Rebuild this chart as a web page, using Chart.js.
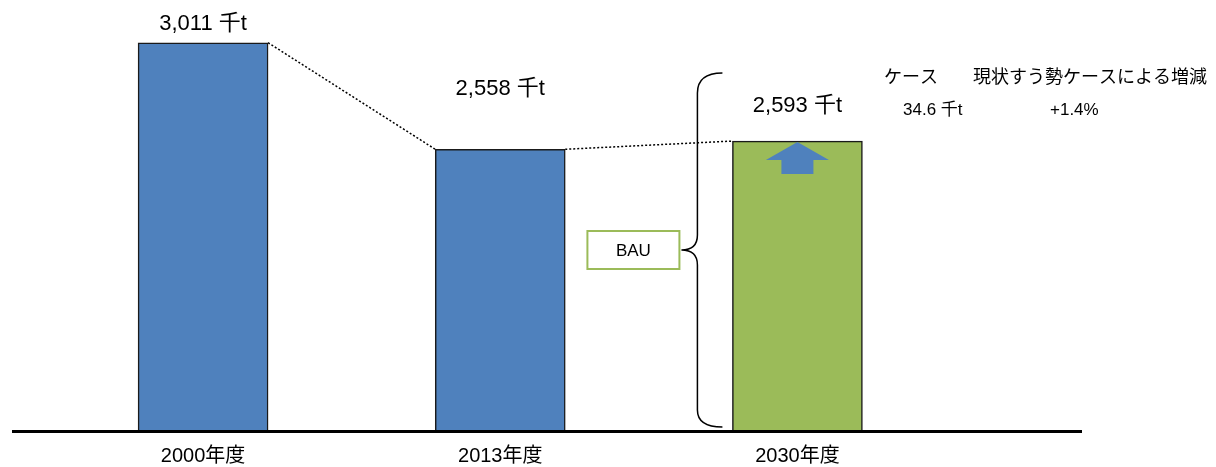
<!DOCTYPE html>
<html>
<head>
<meta charset="utf-8">
<script src="https://cdn.jsdelivr.net/npm/chart.js@4.4.0/dist/chart.umd.min.js"></script>
<style>
    body { margin: 0; background: #fff; }
    canvas { display: block; }
</style>
</head>
<body>
<canvas id="emissionChart" width="1216" height="467"></canvas>
<script>
// Data
const categories = ["2000年度", "2013年度", "2030年度"];
const emissions = [3011, 2558, 2593];
const unitLabel = "千t";
const bauChange = 34.6;
const bauChangePct = 1.4;

const FONT = '"Liberation Sans", Arial, "Noto Sans CJK JP", sans-serif';

// Annotations: value labels, dotted connectors, brace, BAU box, arrow, baseline
const annotations = {
    id: "annotations",
    afterDatasetsDraw(chart) {
        const ctx = chart.ctx;
        const bars = chart.getDatasetMeta(0).data;
        const area = chart.chartArea;
        const labelGap = [19, 60, 35];

        ctx.save();

        // dotted connectors between bar tops
        ctx.strokeStyle = "#000";
        ctx.lineWidth = 1.5;
        ctx.setLineDash([2, 2]);
        for (let i = 0; i < bars.length - 1; i++) {
            const a = bars[i], b = bars[i + 1];
            ctx.beginPath();
            ctx.moveTo(a.x + a.width / 2, a.y);
            ctx.lineTo(b.x - b.width / 2, b.y);
            ctx.stroke();
        }
        ctx.setLineDash([]);

        // value labels
        ctx.fillStyle = "#000";
        ctx.font = "22px " + FONT;
        ctx.textAlign = "center";
        ctx.textBaseline = "middle";
        bars.forEach((bar, i) => {
            const text = emissions[i].toLocaleString("en-US") + " " + unitLabel;
            ctx.fillText(text, bar.x, bar.y - labelGap[i]);
        });

        // up arrow on the 2030 bar
        const last = bars[bars.length - 1];
        ctx.fillStyle = "#4f81bd";
        ctx.beginPath();
        ctx.moveTo(last.x, last.y + 1);
        ctx.lineTo(last.x + 31.5, last.y + 19);
        ctx.lineTo(last.x + 16, last.y + 19);
        ctx.lineTo(last.x + 16, last.y + 33);
        ctx.lineTo(last.x - 16, last.y + 33);
        ctx.lineTo(last.x - 16, last.y + 19);
        ctx.lineTo(last.x - 31.5, last.y + 19);
        ctx.closePath();
        ctx.fill();

        // curly brace left of the 2030 bar
        const left = last.x - last.width / 2;
        const top = area.top + 63;
        const bottom = area.bottom - 3;
        const mid = (top + bottom) / 2;
        const xEnd = left - 10, xLine = left - 35, xTip = left - 51;
        ctx.strokeStyle = "#000";
        ctx.lineWidth = 1.5;
        ctx.beginPath();
        ctx.moveTo(xEnd, top);
        ctx.quadraticCurveTo(xLine, top, xLine, top + 20);
        ctx.lineTo(xLine, mid - 15);
        ctx.quadraticCurveTo(xLine, mid, xTip, mid);
        ctx.quadraticCurveTo(xLine, mid, xLine, mid + 15);
        ctx.lineTo(xLine, bottom - 17);
        ctx.quadraticCurveTo(xLine, bottom, xEnd, bottom);
        ctx.stroke();

        // BAU box
        ctx.strokeStyle = "#9bbb59";
        ctx.lineWidth = 2;
        ctx.strokeRect(xTip - 94, mid - 19, 92, 38);
        ctx.fillStyle = "#000";
        ctx.font = "17px " + FONT;
        ctx.fillText("BAU", xTip - 48, mid + 1);

        // case table at top right
        ctx.textAlign = "left";
        ctx.font = "18px " + FONT;
        ctx.fillText("ケース", 884, 78);
        ctx.fillText("現状すう勢ケースによる増減", 973, 78);
        ctx.font = "17px " + FONT;
        ctx.fillText(bauChange.toFixed(1) + " " + unitLabel, 903, 110);
        ctx.fillText("+" + bauChangePct.toFixed(1) + "%", 1050, 110);

        // baseline
        ctx.strokeStyle = "#000";
        ctx.lineWidth = 3;
        ctx.beginPath();
        ctx.moveTo(12, area.bottom + 1.5);
        ctx.lineTo(1082, area.bottom + 1.5);
        ctx.stroke();

        ctx.restore();
    }
};

const ctx = document.getElementById("emissionChart").getContext("2d");
new Chart(ctx, {
    type: "bar",
    data: {
        labels: categories,
        datasets: [
            {
                data: emissions,
                backgroundColor: ["#4f81bd", "#4f81bd", "#9bbb59"],
                borderColor: "#1a1a1a",
                borderWidth: 1.5,
                borderSkipped: false,
                barThickness: 130,
            },
        ],
    },
    options: {
        responsive: false,
        animation: false,
        devicePixelRatio: 1,
        layout: {
            padding: { top: 10, left: 54.5, right: 270, bottom: -15 },
        },
        plugins: {
            legend: { display: false },
            tooltip: { enabled: false },
        },
        scales: {
            x: {
                grid: { display: false, drawTicks: false },
                border: { display: false },
                ticks: {
                    color: "#000",
                    padding: 14,
                    font: { family: FONT, size: 20 },
                },
            },
            y: {
                display: false,
                min: 1365,
                max: 3150,
            },
        },
    },
    plugins: [annotations],
});
</script>
</body>
</html>
